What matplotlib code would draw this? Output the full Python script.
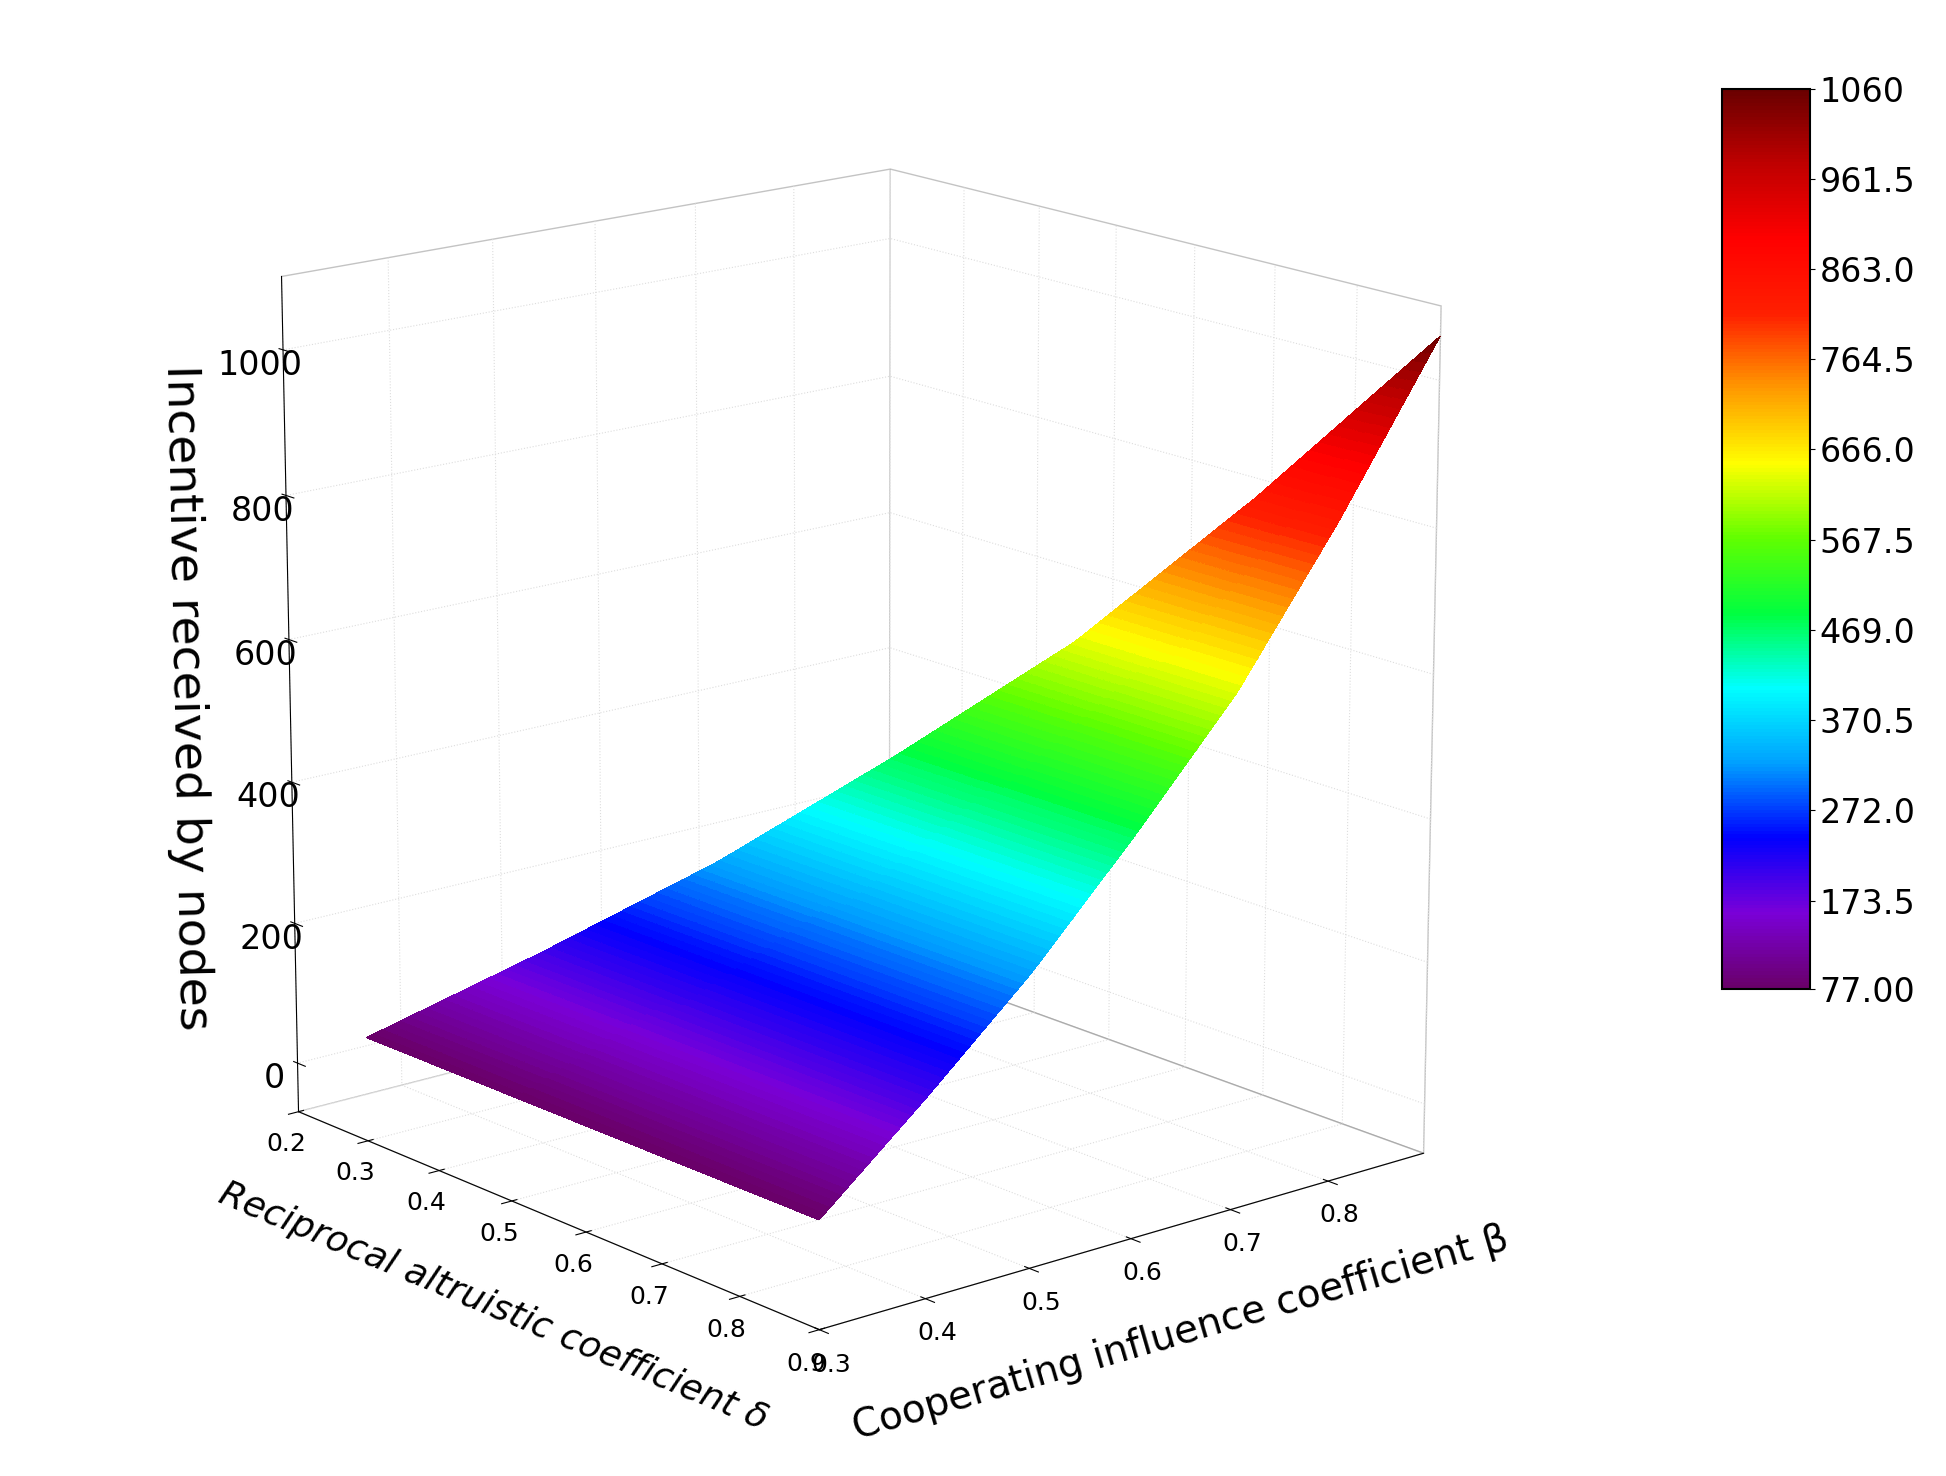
import numpy as np
import matplotlib
matplotlib.use("Agg")
import matplotlib.pyplot as plt
from matplotlib.colors import LinearSegmentedColormap, Normalize

delta_min, delta_max = 0.3, 0.9
beta = [0.3, 0.4, 0.5, 0.6, 0.7, 0.8, 0.9]
# incentive at each beta
incentive_by_beta = [77, 200, 330, 480, 640, 840, 1060]
line_betas = [0.36, 0.42, 0.48, 0.54, 0.6, 0.66, 0.72, 0.78, 0.84]
cbar_ticks = [77.0, 173.5, 272.0, 370.5, 469.0, 567.5, 666.0, 764.5, 863.0, 961.5, 1060]
cbar_labels = ["77.00", "173.5", "272.0", "370.5", "469.0", "567.5", "666.0", "764.5", "863.0", "961.5", "1060"]

cmap = LinearSegmentedColormap.from_list("rb", [
    "#6a006a", "#7a00d8", "#0000ff", "#00a0ff", "#00ffff", "#00ff40",
    "#60ff00", "#ffff00", "#ff9a00", "#ff2000", "#ff0000", "#c00000", "#6a0000"])

s = np.linspace(0, 1, 120)
t = np.linspace(0, 1, 30)
S, T = np.meshgrid(s, t, indexing="ij")
B = beta[0] + (beta[-1] - beta[0]) * S
D = delta_min + (B - beta[0]) * (delta_max - delta_min) / (beta[-1] - beta[0])
D = D + T * (delta_max - D)
Z = np.interp(B, beta, incentive_by_beta)
norm = Normalize(77, 1060)

fig = plt.figure(figsize=(19.46, 14.76), dpi=100)
ax = fig.add_axes([-0.02, 0.0, 0.9, 1.0], projection="3d")
ax.plot_surface(D, B, Z, facecolors=cmap(norm(Z)), rstride=1, cstride=1,
                linewidth=0, antialiased=False, shade=False)
for b in line_betas:
    z = np.interp(b, beta, incentive_by_beta)
    d0 = delta_min + (b - beta[0]) * (delta_max - delta_min) / (beta[-1] - beta[0])
    ax.plot([d0, delta_max], [b, b], [z, z], color="#222222", lw=1.2, alpha=0.6)

ax.set_xlim(0.2, 0.9)
ax.set_ylim(0.3, 0.9)
ax.set_zlim(-70, 1100)
ax.set_xticks([0.2, 0.3, 0.4, 0.5, 0.6, 0.7, 0.8, 0.9])
ax.set_yticks([0.3, 0.4, 0.5, 0.6, 0.7, 0.8])
ax.set_zticks([0, 200, 400, 600, 800, 1000])
ax.tick_params(axis="x", labelsize=18)
ax.tick_params(axis="y", labelsize=18)
ax.tick_params(axis="z", labelsize=24)
for p in (ax.xaxis.pane, ax.yaxis.pane, ax.zaxis.pane):
    p.set_facecolor("white"); p.set_edgecolor("#888888")
for a in (ax.xaxis, ax.yaxis, ax.zaxis):
    a._axinfo["grid"]["color"] = "#dddddd"
    a._axinfo["grid"]["linestyle"] = ":"
ax.zaxis._axinfo["juggled"] = (1, 2, 0)
ax.set_xlabel("Reciprocal altruistic coefficient δ", fontsize=26, style="italic", labelpad=28)
ax.set_ylabel("Cooperating influence coefficient β", fontsize=28, labelpad=28)
ax.set_zlabel("Incentive received by nodes", fontsize=34, labelpad=30)
ax.view_init(elev=16, azim=-40)
ax.set_box_aspect((1, 0.95, 1.05), zoom=0.95)

cax = fig.add_axes([0.885, 0.33, 0.045, 0.61])
sm = plt.cm.ScalarMappable(norm=norm, cmap=cmap)
cb = fig.colorbar(sm, cax=cax, ticks=cbar_ticks)
cb.ax.set_yticklabels(cbar_labels, fontsize=24)
cb.outline.set_linewidth(1.5)

fig.savefig("out.png", dpi=100)
